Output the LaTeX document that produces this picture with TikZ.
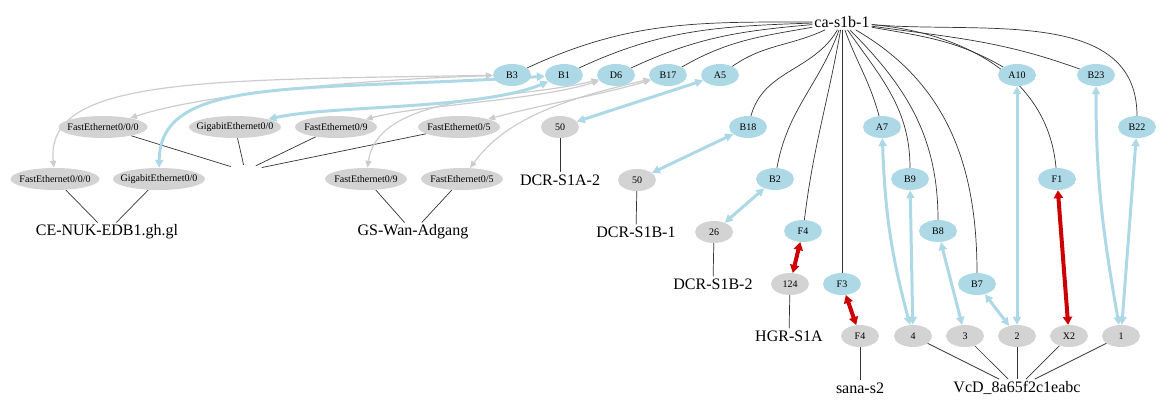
\documentclass[tikz,border=0pt]{standalone}
\usepackage{fontspec}
\setmainfont{Liberation Serif}
\usetikzlibrary{shapes.geometric,arrows.meta,backgrounds}

\definecolor{ifblue}{HTML}{ADD8E6}
\definecolor{ifgray}{HTML}{D3D3D3}
\definecolor{linkgray}{HTML}{CCCCCC}
\definecolor{linkred}{HTML}{CC0000}

\newcommand{\ifname}[1]{\makebox[0pt]{#1}}

\tikzset{
  host/.style={inner sep=2pt, font=\fontsize{16}{18}\selectfont},
  bport/.style={ellipse, fill=ifblue, minimum width=38pt, minimum height=22pt, inner sep=0pt, font=\fontsize{10}{12}\selectfont},
  gport/.style={bport, fill=ifgray},
  wire/.style={draw=black!80, line width=0.7pt},
  glink/.style={draw=linkgray, line width=1.2pt, {Triangle[length=7pt,width=6pt]}-{Triangle[length=7pt,width=6pt]}},
  blink/.style={draw=ifblue, line width=3pt, {Triangle[length=8pt,width=8pt]}-{Triangle[length=8pt,width=8pt]}},
  rlink/.style={draw=linkred, line width=4pt, {Triangle[length=8pt,width=9pt]}-{Triangle[length=8pt,width=9pt]}}
}

\begin{document}
\begin{tikzpicture}[x=1pt,y=-1pt]

\path[use as bounding box] (0,0) rectangle (1165,405);

% hosts
\draw (842,22) node [host] (ca) {ca-s1b-1};
\draw (245,171) node [ellipse, minimum width=40pt, minimum height=12pt, inner sep=0pt] (anon) {};
\draw (107,232) node [host] (ce) {CE-NUK-EDB1.gh.gl};
\draw (413,232) node [host] (gs) {GS-Wan-Adgang};
\draw (560,180) node [host] (dcra2) {DCR-S1A-2};
\draw (636,232) node [host] (dcrb1) {DCR-S1B-1};
\draw (713,284) node [host] (dcrb2) {DCR-S1B-2};
\draw (789,336) node [host] (hgr) {HGR-S1A};
\draw (860,388) node [host] (sana) {sana-s2};
\draw (1017,388) node [host] (vcd) {VcD\_8a65f2c1eabc};

% ports of ca-s1b-1
\draw (512,75) node [bport] (B3) {B3};
\draw (564,75) node [bport] (B1) {B1};
\draw (616,75) node [bport] (D6) {D6};
\draw (668,75) node [bport] (B17) {B17};
\draw (720,75) node [bport] (A5) {A5};
\draw (1017,75) node [bport] (A10) {A10};
\draw (1096,75) node [bport] (B23) {B23};
\draw (748,127) node [bport] (B18) {B18};
\draw (882,127) node [bport] (A7) {A7};
\draw (1137,127) node [bport] (B22) {B22};
\draw (775,179) node [bport] (B2) {B2};
\draw (910,179) node [bport] (B9) {B9};
\draw (1057,179) node [bport] (F1) {F1};
\draw (803,231) node [bport] (F4a) {F4};
\draw (938,231) node [bport] (B8) {B8};
\draw (842,284) node [bport] (F3) {F3};
\draw (977,284) node [bport] (B7) {B7};

% ports of the other hosts
\draw (103,127) node [gport, minimum width=89pt] (fe000a) {\ifname{FastEthernet0/0/0}};
\draw (235,127) node [gport, minimum width=92pt] (ge00a) {\ifname{GigabitEthernet0/0}};
\draw (336,127) node [gport, minimum width=82pt] (fe09a) {\ifname{FastEthernet0/9}};
\draw (459,127) node [gport, minimum width=82pt] (fe05a) {\ifname{FastEthernet0/5}};
\draw (55,179) node [gport, minimum width=89pt] (fe000b) {\ifname{FastEthernet0/0/0}};
\draw (159,179) node [gport, minimum width=92pt] (ge00b) {\ifname{GigabitEthernet0/0}};
\draw (366,179) node [gport, minimum width=82pt] (fe09b) {\ifname{FastEthernet0/9}};
\draw (462,179) node [gport, minimum width=82pt] (fe05b) {\ifname{FastEthernet0/5}};
\draw (560,127) node [gport] (n50a) {50};
\draw (637,180) node [gport] (n50b) {50};
\draw (714,232) node [gport] (n26) {26};
\draw (790,284) node [gport] (n124) {124};
\draw (860,336) node [gport] (F4b) {F4};
\draw (913,336) node [gport] (n4) {4};
\draw (965,336) node [gport] (n3) {3};
\draw (1017,336) node [gport] (n2) {2};
\draw (1069,336) node [gport] (X2) {X2};
\draw (1121,336) node [gport] (n1) {1};

\begin{scope}[on background layer]
% ca-s1b-1 to its ports
\draw [wire] (ca) to[out=180,in=25] (B3);
\draw [wire] (ca) to[out=182,in=25] (B1);
\draw [wire] (ca) to[out=185,in=25] (D6);
\draw [wire] (ca) to[out=190,in=30] (B17);
\draw [wire] (ca) to[out=205,in=35] (A5);
\draw [wire] (ca) to[out=240,in=75] (B18);
\draw [wire] (ca) to[out=250,in=80] (B2);
\draw [wire] (ca) to[out=260,in=83] (F4a);
\draw [wire] (ca) -- (F3);
\draw [wire] (ca) to[out=290,in=105] (A7);
\draw [wire] (ca) to[out=305,in=90] (B9);
\draw [wire] (ca) to[out=315,in=90] (B8);
\draw [wire] (ca) to[out=330,in=90] (B7);
\draw [wire] (ca) to[out=-10,in=150] (A10);
\draw [wire] (ca) to[out=-5,in=95] (F1);
\draw [wire] (ca) to[out=-8,in=160] (B23);
\draw [wire] (ca) to[out=-5,in=90] (B22);

% ports to their hosts
\draw [wire] (fe000a) -- (anon);
\draw [wire] (ge00a) -- (anon);
\draw [wire] (fe09a) -- (anon);
\draw [wire] (fe05a) -- (anon);
\draw [wire] (fe000b) -- (ce);
\draw [wire] (ge00b) -- (ce);
\draw [wire] (fe09b) -- (gs);
\draw [wire] (fe05b) -- (gs);
\draw [wire] (n50a) -- (dcra2);
\draw [wire] (n50b) -- (dcrb1);
\draw [wire] (n26) -- (dcrb2);
\draw [wire] (n124) -- (hgr);
\draw [wire] (F4b) -- (sana);
\foreach \p in {n4,n3,n2,X2,n1}
  \draw [wire] (\p) -- (vcd);

% links
\draw [glink] (B3) .. controls (200,80) and (45,78) .. (fe000b);
\draw [glink] (B3) .. controls (350,80) and (200,95) .. (fe000a);
\draw [glink] (D6) .. controls (540,100) and (420,105) .. (fe09a);
\draw [glink] (D6) .. controls (520,100) and (378,92) .. (fe09b);
\draw [glink] (B17) .. controls (600,95) and (540,105) .. (fe05a);
\draw [glink] (B17) .. controls (560,100) and (505,120) .. (fe05b);
\draw [blink] (B1) .. controls (300,92) and (160,75) .. (ge00b);
\draw [blink] (B1) .. controls (480,110) and (330,105) .. (ge00a);
\draw [blink] (A5) -- (n50a);
\draw [blink] (B18) -- (n50b);
\draw [blink] (B2) -- (n26);
\draw [blink] (A7) to[out=-88,in=105] (n4);
\draw [blink] (B9) -- (n4);
\draw [blink] (B8) -- (n3);
\draw [blink] (B7) -- (n2);
\draw [blink] (A10) -- (n2);
\draw [blink] (B23) to[out=-90,in=100] (n1);
\draw [blink] (B22) -- (n1);
\draw [rlink] (F4a) -- (n124);
\draw [rlink] (F3) -- (F4b);
\draw [rlink] (F1) -- (X2);
\end{scope}
\end{tikzpicture}
\end{document}
